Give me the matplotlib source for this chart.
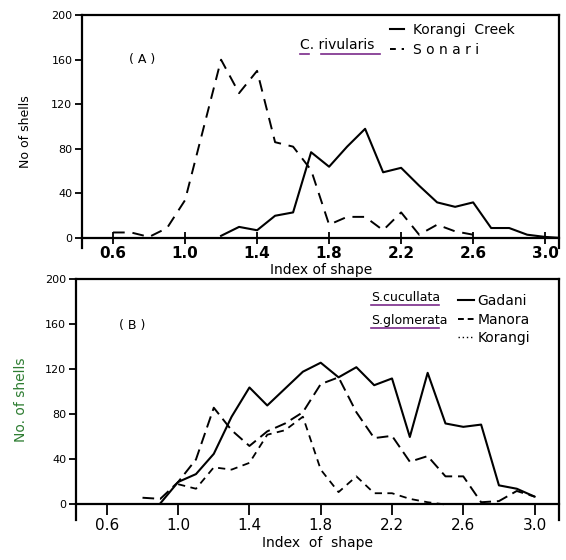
import matplotlib
matplotlib.use("Agg")
import matplotlib.pyplot as plt
from matplotlib.lines import Line2D

# data
# (A) C. rivularis
x_sonari = [0.6, 0.7, 0.8, 0.9, 1.0, 1.1, 1.2, 1.3, 1.4, 1.5, 1.6, 1.7, 1.8,
            1.9, 2.0, 2.1, 2.2, 2.3, 2.4, 2.5, 2.6]
sonari = [5, 5, 1, 9, 34, 97, 160, 130, 150, 86, 82, 61, 12,
          19, 19, 7, 23, 3, 12, 6, 3]
x_korangi_creek = [1.2, 1.3, 1.4, 1.5, 1.6, 1.7, 1.8, 1.9, 2.0, 2.1, 2.2, 2.3,
                   2.4, 2.5, 2.6, 2.7, 2.8, 2.9, 3.0, 3.1]
korangi_creek = [2, 10, 7, 20, 23, 77, 64, 82, 98, 59, 63, 47,
                 32, 28, 32, 9, 9, 3, 1, 0]

# (B) S. cucullata / S. glomerata
x_gadani = [0.9, 1.0, 1.1, 1.2, 1.3, 1.4, 1.5, 1.6, 1.7, 1.8, 1.9, 2.0, 2.1,
            2.2, 2.3, 2.4, 2.5, 2.6, 2.7, 2.8, 2.9, 3.0]
gadani = [1, 20, 27, 45, 78, 104, 88, 103, 118, 126, 113, 122, 106,
          112, 60, 117, 72, 69, 71, 17, 14, 7]
x_manora = [0.8, 0.9, 1.0, 1.1, 1.2, 1.3, 1.4, 1.5, 1.6, 1.7, 1.8, 1.9, 2.0,
            2.1, 2.2, 2.3, 2.4, 2.5, 2.6, 2.7, 2.8, 2.9, 3.0]
manora = [6, 5, 20, 40, 86, 66, 52, 65, 72, 82, 107, 113, 82,
          59, 61, 38, 43, 25, 25, 2, 3, 12, 7]
x_korangi = [1.0, 1.1, 1.2, 1.3, 1.4, 1.5, 1.6, 1.7, 1.8, 1.9, 2.0, 2.1, 2.2,
             2.3, 2.4, 2.5]
korangi = [18, 14, 33, 31, 37, 62, 66, 78, 31, 11, 25, 10, 10,
           5, 2, 0]

xticks = [0.6, 1.0, 1.4, 1.8, 2.2, 2.6, 3.0]
yticks = [0, 40, 80, 120, 160, 200]

plt.rcParams['font.family'] = ['DejaVu Sans']
fig = plt.figure(figsize=(5.66, 5.60), dpi=100)


def style_axes(ax, xlim, ylim, xtick_weight):
    ax.set_xlim(*xlim)
    ax.set_ylim(*ylim)
    ax.spines['bottom'].set_position(('data', 0))
    for s in ax.spines.values():
        s.set_linewidth(1.6)
    ax.set_xticks(xticks)
    ax.set_xticklabels([f"{v:.1f}" for v in xticks], fontsize=11,
                       fontweight=xtick_weight)
    ax.set_yticks(yticks)
    ax.set_yticklabels([str(v) for v in yticks], fontsize=8)
    ax.tick_params(axis='x', direction='inout', length=8, width=1.3, pad=2)
    ax.tick_params(axis='y', direction='out', length=5, width=1.3, pad=2)


# ---- panel A
ax1 = fig.add_axes([0.145, 0.557, 0.843, 0.416])
ax1.plot(x_korangi_creek, korangi_creek, color='black', lw=1.5)
ax1.plot(x_sonari, sonari, color='black', lw=1.4, dashes=(6, 4))
style_axes(ax1, (0.428, 3.078), (-9, 200), 'bold')
ax1.set_xlabel("Index of shape", fontsize=10, labelpad=1)
ax1.set_ylabel("No of shells", fontsize=9, labelpad=14)
ax1.text(0.69, 160, "( A )", fontsize=9, ha='left', va='center')

ax1.text(0.457, 0.871, "C. rivularis", transform=ax1.transAxes,
         fontsize=10, ha='left', va='center')
ax1.plot([0.457, 0.475], [0.835, 0.835], transform=ax1.transAxes,
         color='#7a2a8a', lw=1.2, clip_on=False)
ax1.plot([0.50, 0.625], [0.835, 0.835], transform=ax1.transAxes,
         color='#7a2a8a', lw=1.2, clip_on=False)
handles_a = [Line2D([], [], color='black', lw=1.5),
             Line2D([], [], color='black', lw=1.4, dashes=(3, 3))]
ax1.legend(handles_a, ["Korangi  Creek", "S o n a r i"], loc='upper left',
           bbox_to_anchor=(0.62, 1.02), frameon=False, fontsize=10,
           handlelength=1.0, handletextpad=0.6, labelspacing=0.45)

# ---- panel B
ax2 = fig.add_axes([0.134, 0.071, 0.853, 0.430])
ax2.plot(x_gadani, gadani, color='black', lw=1.5)
ax2.plot(x_manora, manora, color='black', lw=1.4, dashes=(6, 3))
ax2.plot(x_korangi, korangi, color='black', lw=1.3, dashes=(4, 3))
style_axes(ax2, (0.426, 3.135), (-14, 200), 'normal')
ax2.tick_params(axis='x', direction='out', length=8)
ax2.set_xlabel("Index  of  shape", fontsize=10, labelpad=2)
ax2.set_ylabel("No. of shells", fontsize=10, color='#2e7d32', labelpad=12)
ax2.text(0.67, 159, "( B )", fontsize=9, ha='left', va='center')

ax2.text(0.612, 0.925, "S.cucullata", transform=ax2.transAxes,
         fontsize=9, ha='left', va='center')
ax2.text(0.612, 0.830, "S.glomerata", transform=ax2.transAxes,
         fontsize=9, ha='left', va='center')
ax2.plot([0.612, 0.752], [0.893, 0.893], transform=ax2.transAxes,
         color='#7a2a8a', lw=1.2, clip_on=False)
ax2.plot([0.612, 0.752], [0.797, 0.797], transform=ax2.transAxes,
         color='#7a2a8a', lw=1.2, clip_on=False)
handles_b = [Line2D([], [], color='black', lw=1.5),
             Line2D([], [], color='black', lw=1.4, dashes=(3, 2)),
             Line2D([], [], color='black', lw=1.0, dashes=(1, 2))]
ax2.legend(handles_b, ["Gadani", "Manora", "Korangi"],
           loc='upper left', bbox_to_anchor=(0.765, 0.99), frameon=False,
           fontsize=10, handlelength=1.2, handletextpad=0.2,
           labelspacing=0.3)

plt.savefig("out.png", dpi=100)
